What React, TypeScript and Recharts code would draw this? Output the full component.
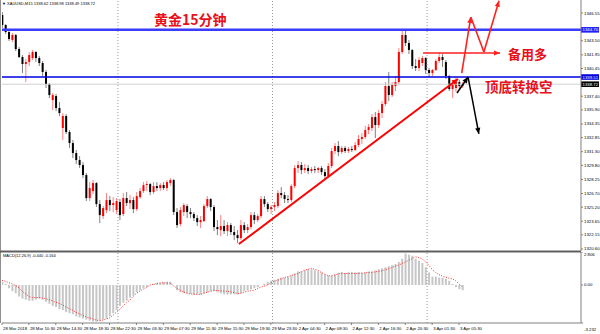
import { ComposedChart, Bar, Line, XAxis, YAxis, ReferenceLine } from 'recharts'

// XAUUSD M15 chart, redrawn with 30 minute candles
const OPEN = [
  1346.33, 1345.23, 1344.46, 1343.58, 1344.13, 1342.59, 1341.71, 1340.94, 1341.16, 1341.60,
  1342.26, 1341.60, 1341.05, 1340.06, 1338.74, 1336.98, 1337.42, 1336.10, 1333.90, 1335.22,
  1333.46, 1332.25, 1331.15, 1330.38, 1329.83, 1328.73, 1326.20, 1326.97, 1327.85, 1325.54,
  1324.22, 1324.88, 1325.98, 1325.43, 1324.88, 1325.76, 1324.44, 1326.20, 1325.65, 1325.98,
  1324.99, 1326.31, 1326.97, 1327.63, 1327.74, 1326.86, 1327.52, 1327.30, 1327.63, 1327.30,
  1327.85, 1328.18, 1324.66, 1323.34, 1324.66, 1325.32, 1324.66, 1324.44, 1324.00, 1323.56,
  1323.67, 1325.32, 1326.09, 1325.21, 1323.01, 1322.68, 1323.12, 1322.57, 1323.23, 1322.46,
  1322.13, 1321.80, 1323.23, 1322.68, 1323.01, 1324.33, 1323.78, 1324.22, 1326.09, 1325.54,
  1324.99, 1325.21, 1325.32, 1326.75, 1326.53, 1326.09, 1325.98, 1327.52, 1329.50, 1329.83,
  1329.28, 1329.50, 1329.17, 1329.39, 1329.28, 1329.50, 1329.06, 1328.62, 1329.72, 1331.37,
  1331.92, 1331.26, 1331.70, 1331.37, 1331.59, 1331.48, 1332.03, 1332.69, 1332.91, 1333.68,
  1333.90, 1335.11, 1334.23, 1335.55, 1336.54, 1338.52, 1337.53, 1338.52, 1338.96, 1342.26,
  1344.13, 1343.25, 1342.48, 1340.72, 1340.50, 1341.05, 1341.60, 1340.28, 1339.95, 1340.28,
  1341.27, 1341.71, 1341.16, 1339.62, 1338.19, 1338.30, 1338.96, 1338.52,
]
const HIGH = [
  1346.66, 1345.34, 1344.68, 1344.35, 1344.24, 1342.81, 1341.93, 1341.49, 1342.26, 1342.48,
  1342.37, 1341.82, 1341.27, 1340.28, 1338.85, 1337.75, 1337.64, 1336.76, 1335.55, 1335.44,
  1333.68, 1332.58, 1331.48, 1330.82, 1330.16, 1328.95, 1327.96, 1328.18, 1327.96, 1325.98,
  1325.32, 1326.75, 1326.42, 1326.31, 1326.20, 1326.09, 1326.75, 1326.86, 1326.53, 1326.31,
  1326.86, 1327.30, 1327.96, 1328.07, 1327.85, 1327.96, 1327.96, 1327.85, 1327.96, 1328.18,
  1328.40, 1328.29, 1325.10, 1325.21, 1325.65, 1325.54, 1325.10, 1324.66, 1324.33, 1324.22,
  1325.54, 1326.42, 1326.20, 1325.43, 1323.78, 1324.33, 1323.78, 1323.56, 1323.45, 1323.12,
  1322.68, 1323.78, 1323.56, 1323.34, 1324.66, 1324.66, 1324.44, 1326.42, 1326.42, 1325.76,
  1325.43, 1325.76, 1327.08, 1327.41, 1326.86, 1326.53, 1327.74, 1329.83, 1330.27, 1330.16,
  1329.94, 1329.83, 1329.61, 1329.72, 1329.61, 1329.72, 1329.39, 1330.05, 1331.70, 1332.25,
  1332.47, 1331.92, 1331.92, 1331.81, 1331.92, 1332.36, 1333.13, 1333.35, 1334.12, 1334.34,
  1335.44, 1335.66, 1335.88, 1336.87, 1338.96, 1340.06, 1338.96, 1339.62, 1342.70, 1344.60,
  1344.57, 1343.58, 1342.59, 1341.49, 1341.71, 1341.82, 1341.71, 1340.50, 1340.39, 1341.49,
  1342.26, 1342.04, 1341.38, 1339.73, 1339.18, 1339.51, 1339.18, 1338.96,
]
const LOW = [
  1344.90, 1344.24, 1343.47, 1343.36, 1342.37, 1341.60, 1339.95, 1338.96, 1340.72, 1341.38,
  1341.16, 1340.72, 1339.62, 1338.30, 1337.20, 1335.88, 1335.77, 1335.22, 1332.58, 1333.24,
  1331.70, 1330.60, 1329.94, 1329.50, 1328.40, 1325.87, 1325.87, 1326.64, 1325.21, 1323.45,
  1323.89, 1324.55, 1324.77, 1324.66, 1324.44, 1323.78, 1324.22, 1325.32, 1324.99, 1324.55,
  1324.77, 1326.09, 1326.75, 1326.97, 1326.53, 1326.64, 1326.97, 1326.97, 1327.08, 1326.97,
  1327.52, 1324.33, 1322.90, 1323.12, 1324.22, 1324.00, 1324.00, 1323.67, 1323.12, 1322.90,
  1323.56, 1325.10, 1324.77, 1322.57, 1322.13, 1322.02, 1322.24, 1322.02, 1322.13, 1321.58,
  1321.25, 1321.58, 1322.35, 1322.35, 1322.79, 1323.34, 1323.56, 1324.00, 1325.21, 1324.66,
  1324.44, 1324.77, 1325.10, 1326.20, 1325.65, 1325.65, 1325.76, 1327.30, 1328.95, 1328.84,
  1328.95, 1328.84, 1328.95, 1328.95, 1328.95, 1328.73, 1328.29, 1328.40, 1329.50, 1331.04,
  1330.82, 1331.04, 1331.15, 1331.15, 1331.26, 1331.37, 1331.81, 1332.14, 1332.69, 1333.24,
  1333.57, 1332.80, 1333.90, 1335.00, 1336.32, 1336.87, 1337.31, 1337.97, 1338.74, 1342.04,
  1342.92, 1342.04, 1340.39, 1340.17, 1340.17, 1340.72, 1339.84, 1339.51, 1339.62, 1340.17,
  1341.05, 1340.61, 1339.29, 1337.97, 1337.20, 1337.86, 1338.08, 1338.30,
]
const CLOSE = [
  1345.23, 1344.46, 1343.69, 1344.13, 1342.59, 1341.71, 1340.94, 1341.16, 1341.93, 1342.26,
  1341.60, 1341.05, 1340.06, 1338.74, 1337.53, 1337.53, 1336.10, 1335.55, 1335.22, 1333.46,
  1332.25, 1331.15, 1330.38, 1329.83, 1328.73, 1326.20, 1327.30, 1327.85, 1325.54, 1324.33,
  1325.10, 1325.98, 1325.43, 1325.65, 1325.87, 1324.33, 1326.20, 1325.65, 1325.98, 1324.99,
  1326.42, 1326.97, 1327.63, 1327.74, 1326.86, 1327.52, 1327.30, 1327.63, 1327.30, 1327.96,
  1328.18, 1324.66, 1323.23, 1324.88, 1325.43, 1324.66, 1324.44, 1324.00, 1323.56, 1323.78,
  1325.32, 1326.09, 1325.21, 1323.01, 1322.79, 1323.12, 1322.57, 1323.23, 1322.46, 1322.13,
  1321.80, 1323.23, 1322.68, 1323.01, 1324.33, 1323.78, 1324.22, 1326.09, 1325.54, 1324.99,
  1325.21, 1325.43, 1326.75, 1326.53, 1326.09, 1325.98, 1327.52, 1329.50, 1329.83, 1329.28,
  1329.50, 1329.17, 1329.39, 1329.28, 1329.50, 1329.06, 1328.62, 1329.72, 1331.37, 1331.92,
  1331.26, 1331.70, 1331.37, 1331.59, 1331.48, 1332.03, 1332.69, 1332.91, 1333.68, 1334.01,
  1335.11, 1334.23, 1335.55, 1336.54, 1338.52, 1337.53, 1338.63, 1338.96, 1342.26, 1344.13,
  1343.25, 1342.48, 1340.72, 1340.50, 1341.38, 1341.60, 1340.28, 1339.95, 1340.28, 1341.27,
  1341.71, 1341.38, 1339.62, 1338.19, 1338.74, 1338.96, 1338.52, 1338.72,
]
const MACD_MAIN = [
  0.27, 0.09, -0.27, -0.53, -0.71, -0.98, -1.16, -1.25, -1.34, -1.34,
  -1.25, -1.16, -1.25, -1.42, -1.60, -1.78, -1.87, -2.05, -2.14, -2.31,
  -2.40, -2.49, -2.67, -2.76, -2.85, -2.94, -3.03, -3.12, -3.12, -3.03,
  -2.94, -2.85, -2.67, -2.40, -2.14, -1.78, -1.51, -1.34, -1.07, -0.89,
  -0.62, -0.45, -0.27, -0.18, 0.00, 0.09, 0.18, 0.18, 0.27, 0.27,
  0.27, 0.00, -0.45, -0.62, -0.71, -0.71, -0.78, -0.82, -0.79, -0.81,
  -0.71, -0.62, -0.53, -0.53, -0.62, -0.71, -0.79, -0.82, -0.80, -0.78,
  -0.81, -0.71, -0.53, -0.45, -0.36, -0.27, -0.18, 0.00, 0.09, 0.27,
  0.36, 0.45, 0.53, 0.62, 0.62, 0.71, 0.80, 0.98, 1.16, 1.16,
  1.25, 1.34, 1.34, 1.25, 1.16, 1.07, 0.89, 0.80, 0.80, 0.89,
  1.05, 1.10, 1.02, 1.08, 1.12, 1.06, 1.10, 1.04, 1.09, 1.16,
  1.16, 1.25, 1.34, 1.42, 1.51, 1.60, 1.69, 1.78, 1.96, 2.23,
  2.67, 2.58, 2.49, 2.23, 2.05, 1.87, 1.51, 1.07, 0.71, 0.71,
  0.62, 0.62, 0.53, 0.36, 0.09, -0.18, -0.36, -0.44,
]
const MACD_SIGNAL = [
  0.40, 0.31, 0.20, 0.09, -0.04, -0.22, -0.53, -0.76, -0.98, -1.07,
  -1.07, -1.07, -1.11, -1.16, -1.25, -1.34, -1.47, -1.56, -1.69, -1.87,
  -2.00, -2.14, -2.31, -2.45, -2.58, -2.71, -2.80, -2.89, -2.98, -3.03,
  -2.98, -2.89, -2.80, -2.58, -2.31, -2.09, -1.78, -1.51, -1.29, -0.98,
  -0.71, -0.53, -0.36, -0.22, 0.00, 0.06, 0.12, 0.18, 0.18, 0.18,
  0.18, -0.04, -0.27, -0.45, -0.58, -0.71, -0.76, -0.78, -0.80, -0.80,
  -0.71, -0.62, -0.53, -0.45, -0.47, -0.50, -0.52, -0.53, -0.59, -0.65,
  -0.71, -0.71, -0.62, -0.53, -0.49, -0.45, -0.31, -0.18, -0.09, 0.00,
  0.18, 0.31, 0.40, 0.53, 0.62, 0.71, 0.80, 0.89, 0.98, 1.11,
  1.25, 1.34, 1.42, 1.34, 1.25, 1.07, 0.93, 0.80, 0.76, 0.85,
  0.93, 0.98, 0.98, 0.98, 0.98, 0.98, 0.98, 1.00, 1.02, 1.07,
  1.07, 1.11, 1.16, 1.20, 1.29, 1.38, 1.47, 1.60, 1.69, 1.82,
  1.96, 2.09, 2.23, 2.40, 2.33, 2.23, 2.00, 1.69, 1.34, 1.07,
  0.89, 0.76, 0.67, 0.58, 0.53, 0.36, 0.09, -0.16,
]

const TICK_IDX = [0, 8, 16, 24, 32, 40, 48, 56, 64, 72, 80, 88, 96, 104, 112, 120, 128, 136]
const TICK_TEXT = [
  '28 Mar 2018', '28 Mar 10:30', '28 Mar 14:30', '28 Mar 18:30', '28 Mar 22:30', '29 Mar 03:30',
  '29 Mar 07:30', '29 Mar 11:30', '29 Mar 15:30', '29 Mar 19:30', '29 Mar 23:30', '2 Apr 04:30',
  '2 Apr 08:30', '2 Apr 12:30', '2 Apr 16:30', '2 Apr 20:30', '3 Apr 01:30', '3 Apr 05:30',
]
const DAY_BREAKS = [34.5, 80.5, 126.5]
const PRICE_TICKS = [
  1320.60, 1322.15, 1323.65, 1325.20, 1326.70, 1328.25, 1329.80, 1331.30,
  1332.85, 1334.35, 1335.90, 1337.40, 1340.45, 1341.95, 1343.50, 1346.55,
]
const MACD_TICKS = [2.806, 0, -3.232]

const RESIST = 1344.70
const SUPPORT = 1339.51
const BID = 1338.72

// hand drawn arrows, in (bar index, price)
const TREND_I = [70.5, 135.7]
const TREND_P = [1321.15, 1339.29]
const LONG_I = [136.8, 139.5, 143.4, 147.9]
const LONG_P = [1339.95, 1346.11, 1342.26, 1347.9]
const ENTRY_I = [125.3, 148.2]
const ENTRY_P = [1342.15, 1342.15]
const SHORT_I = [135.4, 138.7, 141.9]
const SHORT_P = [1337.75, 1339.51, 1333.25]

const X_DOMAIN = [0, 172.3]
const PRICE_DOMAIN = [1320.38, 1347.98]
const MACD_DOMAIN = [-3.232, 2.806]

const data = OPEN.map((o, i) => ({
  i, open: o, high: HIGH[i], low: LOW[i], close: CLOSE[i],
  macd: MACD_MAIN[i], signal: MACD_SIGNAL[i],
}))

const FONT = '"Liberation Sans", Arial, sans-serif'
const CJK = '"Noto Sans CJK SC", sans-serif'

function Candle(props: any) {
  const { x, y, width, height, payload } = props
  const { open, close, high, low } = payload
  const up = close >= open
  const color = up ? '#ff0000' : '#000000'
  const k = high === low ? 0 : height / (high - low)
  const yo = y + (high - open) * k
  const yc = y + (high - close) * k
  const cx = x + width / 2
  return (
    <g>
      <line x1={cx} x2={cx} y1={y} y2={y + height} stroke={color} strokeOpacity={0.5} />
      <rect x={x} y={Math.min(yo, yc)} width={width} height={Math.max(Math.abs(yc - yo), 1)} fill={color} />
    </g>
  )
}

const PriceTick = (p: any) => (
  <text x={p.x} y={p.y} dy={1.5} fontSize={4.3} fontFamily={FONT} fill="#000">
    {p.payload.value.toFixed(2)}
  </text>
)

const MacdTick = (p: any) => {
  const v = p.payload.value
  const dy = v > 0 ? 4 : v < 0 ? 8 : 1.5
  return (
    <text x={p.x} y={p.y} dy={dy} fontSize={4.3} fontFamily={FONT} fill="#000">
      {v === 0 ? '0.00' : v.toFixed(3)}
    </text>
  )
}

const TimeTick = (p: any) => (
  <text x={p.x + 1} y={p.y} dy={2.5} fontSize={4.3} fontFamily={FONT} fill="#000">
    {TICK_TEXT[TICK_IDX.indexOf(p.payload.value)]}
  </text>
)

const priceTag = (text: string, bg: string) => (p: any) => {
  const vb = p.viewBox
  const x = vb.x + vb.width
  return (
    <g>
      <rect x={x} y={vb.y - 2.8} width={18} height={5.6} fill={bg} />
      <text x={x + 1.5} y={vb.y} dy={1.5} fontSize={4.3} fontFamily={FONT} fill="#fff">{text}</text>
    </g>
  )
}

const arrow = (head: boolean) => (p: any) => {
  const { x1, y1, x2, y2, stroke, strokeWidth } = p
  const a = Math.atan2(y2 - y1, x2 - x1)
  const bx = x2 - 6 * Math.cos(a)
  const by = y2 - 6 * Math.sin(a)
  const s = Math.sin(a) * 2.6
  const c = Math.cos(a) * 2.6
  return (
    <g>
      <line x1={x1} y1={y1} x2={x2} y2={y2} stroke={stroke} strokeWidth={strokeWidth} />
      {head && <polygon points={`${x2},${y2} ${bx - s},${by + c} ${bx + s},${by - c}`} fill={stroke} />}
    </g>
  )
}

function path(xs: number[], ps: number[], color: string, width: number, heads: boolean[], key: string) {
  return xs.slice(1).map((x, k) => (
    <ReferenceLine
      key={key + k}
      segment={[{ x: xs[k], y: ps[k] }, { x, y: ps[k + 1] }]}
      stroke={color}
      strokeWidth={width}
      shape={arrow(heads[k])}
    />
  ))
}

export default function App() {
  return (
    <div style={{ position: 'relative', width: 600, height: 334, background: '#fff', overflow: 'hidden' }}>
      <style>{'body{margin:0}'}</style>
      <div style={{ position: 'absolute', left: 0, top: 0 }}>
        <ComposedChart width={600} height={252} data={data} margin={{ top: 0, right: 0, bottom: 1, left: 2 }}>
          <XAxis type="number" dataKey="i" domain={X_DOMAIN} allowDataOverflow hide />
          <YAxis
            orientation="right" type="number" domain={PRICE_DOMAIN} allowDataOverflow
            ticks={PRICE_TICKS} interval={0} width={19} tickSize={2} tickMargin={1}
            tick={<PriceTick />} axisLine={{ stroke: '#808080' }} tickLine={{ stroke: '#808080' }}
          />
          {DAY_BREAKS.map(d => <ReferenceLine key={d} x={d} stroke="#9a9a9a" strokeDasharray="1 2" />)}
          <ReferenceLine y={BID} stroke="#d0d0d0" label={priceTag('1338.72', '#000000')} />
          <Bar dataKey={(d: any) => [d.low, d.high]} shape={Candle} barSize={2} isAnimationActive={false} />
          <ReferenceLine y={RESIST} stroke="#3b3bff" strokeWidth={2.5} label={priceTag('1344.70', '#2020ff')} />
          <ReferenceLine y={SUPPORT} stroke="#0000e0" strokeWidth={1.5} label={priceTag('1339.51', '#0000e0')} />
          {path(TREND_I, TREND_P, '#ff0000', 2, [true], 'tr')}
          {path(ENTRY_I, ENTRY_P, '#ff2020', 1.6, [true], 'en')}
          {path(LONG_I, LONG_P, '#ff2020', 1.6, [true, false, true], 'lo')}
          {path(SHORT_I, SHORT_P, '#000000', 1.5, [true, true], 'sh')}
        </ComposedChart>
      </div>
      <div style={{ position: 'absolute', left: 0, top: 252 }}>
        <ComposedChart width={600} height={82} data={data} margin={{ top: 0, right: 0, bottom: 0, left: 2 }}>
          <XAxis
            type="number" dataKey="i" domain={X_DOMAIN} allowDataOverflow ticks={TICK_IDX} interval={0}
            height={11} tickSize={2} tick={<TimeTick />} axisLine={{ stroke: '#808080' }} tickLine={{ stroke: '#808080' }}
          />
          <YAxis
            orientation="right" type="number" domain={MACD_DOMAIN} allowDataOverflow
            ticks={MACD_TICKS} interval={0} width={19} tickSize={2} tickMargin={1}
            tick={<MacdTick />} axisLine={{ stroke: '#808080' }} tickLine={{ stroke: '#808080' }}
          />
          {DAY_BREAKS.map(d => <ReferenceLine key={d} x={d} stroke="#9a9a9a" strokeDasharray="1 2" />)}
          <Bar dataKey="macd" fill="#c6c6c6" barSize={2} isAnimationActive={false} />
          <Line dataKey="signal" type="linear" stroke="#ff3030" strokeWidth={1} strokeDasharray="1 1.5" dot={false} isAnimationActive={false} />
        </ComposedChart>
      </div>
      <svg width={600} height={334} style={{ position: 'absolute', left: 0, top: 0, pointerEvents: 'none' }}>
        <line x1={0.5} x2={0.5} y1={0} y2={323} stroke="#909090" />
        <line x1={0} x2={581} y1={251.5} y2={251.5} stroke="#606060" strokeWidth={2} />
        <text x={2} y={5} fontSize={4} fontFamily={FONT} fill="#000">▼ XAUUSD,M15 1338.62 1338.98 1338.49 1338.72</text>
        <text x={3} y={257} fontSize={4} fontFamily={FONT} fill="#000">MACD(12,26,9) -0.440 -0.164</text>
        <text x={154} y={25} fontSize={14} fontWeight={700} fontFamily={CJK} fill="#e8101a">黄金15分钟</text>
        <text x={508} y={59} fontSize={13} fontWeight={700} fontFamily={CJK} fill="#e8101a">备用多</text>
        <text x={485} y={92} fontSize={13.5} fontWeight={700} fontFamily={CJK} fill="#e8101a">顶底转换空</text>
      </svg>
    </div>
  )
}
